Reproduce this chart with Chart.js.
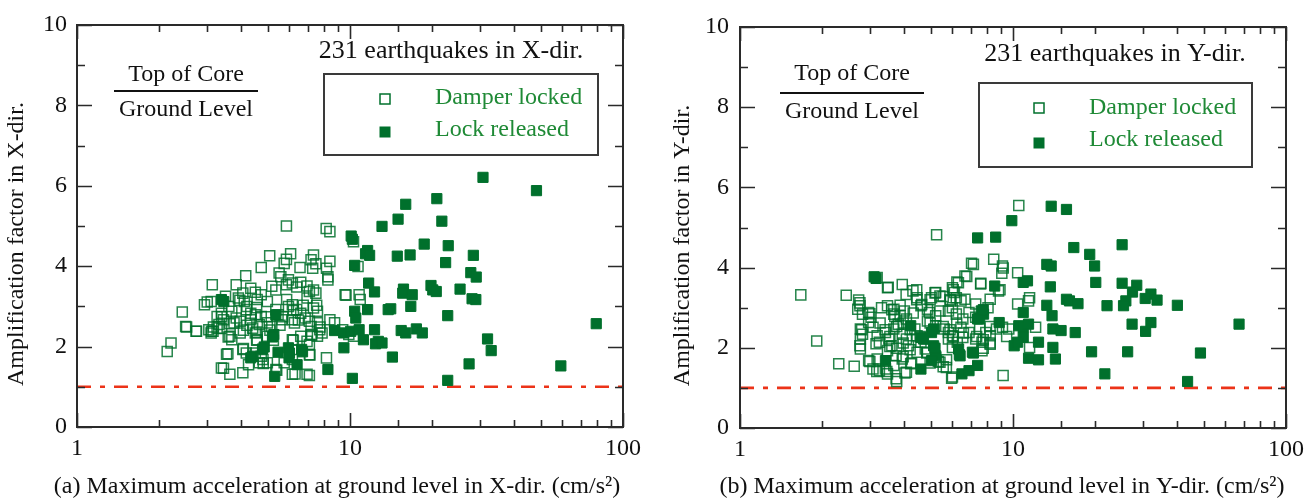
<!DOCTYPE html>
<html><head><meta charset="utf-8">
<script src="https://cdn.jsdelivr.net/npm/chart.js@4.4.1/dist/chart.umd.min.js"></script>
<style>
html,body{margin:0;padding:0;background:#fff;}
#wrap{position:relative;width:1316px;height:499px;overflow:hidden;background:#fff;}
canvas{position:absolute;top:0;}
</style></head><body>
<div id="wrap">
<canvas id="cx" width="658" height="499" style="left:0px"></canvas>
<canvas id="cy" width="658" height="499" style="left:658px"></canvas>
</div>
<script>
// ---------------- DATA ----------------
const xTickLabels = ['1', '10', '100'];
const seriesLabels = ['Damper locked', 'Lock released'];
const refX = [1, 100];
const refY = [1, 1];

// (a) X-direction : Damper locked (open squares)
const accLockedX = [5.85,8.18,8.44,10.3,5.08,6.06,5.85,5.74,7.35,7.2,7.5,7.3,8.44,8.2,8.3,8.3,6.56,4.73,10.7,4.15,5.5,5.58,5.95,5.85,6.15,6.38,6.6,6.96,7.1,6.96,7.35,7.5,3.13,3.83,4.33,4.5,4.73,4.57,4.98,5.17,5.35,4.05,3.9,4.1,3.5,3.1,2.93,9.6,10.8,10.9,3.6,3.69,4.17,4.33,4.5,4.73,5.35,5.45,5.63,5.95,6.15,6.38,6.6,6.85,7.35,7.6,2.43,3.38,3.26,3.44,3.31,3.83,3.76,3.96,4.33,4.4,4.65,4.98,5.17,6.15,6.26,7.1,7.2,7.6,7.75,8.44,8.78,9.4,9.9,10.3,2.5,2.74,3.04,3.1,3.15,3.26,3.63,3.69,3.96,4.5,4.57,4.98,6.15,6.6,7.2,7.6,7.9,6.96,7.1,2.14,2.21,4.05,4.17,3.57,4.5,4.73,4.8,4.65,4.98,4.25,5.35,5.74,6.15,7.1,8.2,3.38,3.63,4.05,6.15,6.96,7.1,5.86,6.74,7.55,6.2,5.67,4.95,4.19,3.63,3.39,3.58,4.07,5.09,6.47,7.76,7.24,6.2,5.24,4.55,4.07,3.53,4.81,3.44,5.39,6.29,7.13,9.67,3.0,2.52,2.73,3.11,3.95,4.19,4.55,3.39,3.16,4.55,5.54];
const ampLockedX = [5.0,4.94,4.86,4.61,4.26,4.31,4.17,4.07,4.28,4.16,4.06,3.95,4.12,3.95,3.74,3.66,3.97,3.97,3.99,3.76,3.83,3.74,3.66,3.54,3.58,3.48,3.6,3.51,3.37,3.21,3.41,3.33,3.54,3.54,3.45,3.35,3.29,3.17,3.12,3.5,3.41,3.33,3.21,3.12,3.25,3.12,3.04,3.29,3.29,3.17,3.0,2.88,2.92,2.83,2.79,2.75,2.92,2.79,2.67,3.0,3.04,2.92,2.83,2.71,2.96,2.88,2.86,2.83,2.75,2.67,2.55,2.71,2.59,2.63,2.67,2.46,2.55,2.59,2.5,2.67,2.59,2.63,2.5,2.59,2.42,2.67,2.59,2.42,2.3,2.26,2.5,2.38,2.42,2.34,2.38,2.46,2.26,2.17,2.34,2.34,2.17,2.26,2.17,2.26,2.3,2.26,2.34,2.13,2.05,1.88,2.09,1.93,1.84,1.82,1.84,1.76,1.68,1.6,1.6,1.55,1.43,1.6,1.68,1.8,1.72,1.47,1.31,1.35,1.31,1.31,1.28,3.17,3.03,3.03,2.9,2.74,2.74,2.53,2.57,2.45,2.24,2.41,2.41,2.66,2.49,2.28,2.16,2.16,2.16,1.95,1.81,1.58,1.46,1.41,1.32,1.79,3.28,3.11,2.49,2.38,2.38,3.15,3.0,2.97,2.74,2.49,2.36,2.53];

// (a) X-direction : Lock released (filled squares)
const accReleasedX = [30.7,48.2,20.8,16.0,15.0,21.7,13.1,10.1,10.2,18.7,22.9,11.6,11.4,11.8,14.9,16.6,28.3,22.4,10.4,11.7,12.3,15.7,15.6,16.9,19.8,20.1,20.7,25.3,27.7,29.0,28.0,28.9,3.38,3.45,11.6,14.1,13.8,16.7,10.4,10.5,22.8,5.35,8.78,9.48,10.06,10.8,12.3,15.4,16.0,17.5,18.4,11.2,12.7,12.4,13.1,31.9,32.9,9.5,5.26,5.2,4.85,4.78,4.4,4.33,5.45,5.95,6.0,5.98,6.7,6.65,6.4,8.3,14.3,27.3,59.2,79.8,10.2,22.8,5.3];
const ampReleasedX = [6.21,5.88,5.68,5.54,5.17,5.12,4.99,4.75,4.67,4.55,4.51,4.39,4.31,4.27,4.25,4.28,4.27,4.09,4.02,3.58,3.36,3.43,3.33,3.29,3.52,3.41,3.37,3.43,3.84,3.73,3.19,3.17,3.17,3.12,2.92,2.94,2.92,3.0,2.88,2.71,2.77,2.79,2.4,2.34,2.38,2.42,2.42,2.4,2.34,2.44,2.34,2.17,2.13,2.07,2.09,2.19,1.9,1.97,2.3,2.24,1.99,1.94,1.76,1.72,1.86,1.97,1.84,1.72,1.87,1.93,1.55,1.43,1.74,1.57,1.52,2.57,1.21,1.16,1.26];

// (b) Y-direction : Damper locked (open squares)
const accLockedY = [10.5,5.25,8.5,7.05,9.15,9.1,10.4,6.67,6.23,7.62,8.85,11.5,11.4,10.4,3.18,3.47,3.93,4.3,4.45,5.21,5.03,5.4,6.0,6.1,6.2,5.9,6.45,6.67,8.25,8.1,7.3,1.67,2.45,2.72,2.75,2.7,2.81,2.96,3.02,3.3,3.47,3.66,3.86,4.0,3.66,3.86,4.07,4.6,4.86,4.94,5.21,5.4,5.8,6.0,6.2,6.55,6.9,7.3,2.76,2.81,2.76,2.75,2.76,2.96,3.07,3.18,3.24,3.41,3.51,3.6,3.47,3.66,3.8,3.93,4.07,4.14,4.37,4.45,4.6,4.77,4.45,4.86,5.21,5.6,5.8,6.0,6.45,5.8,6.0,6.25,6.55,6.9,7.3,7.55,7.7,7.95,8.25,8.7,9.15,9.65,11.5,12.1,7.7,8.25,2.96,3.18,3.07,3.24,3.41,3.47,3.73,4.07,2.3,2.62,1.91,3.73,3.93,4.22,3.66,4.86,5.21,5.4,5.7,6.0,9.2,3.49,4.06,3.6,3.69,3.26,3.4,3.54,3.75,3.96,3.54,3.75,3.96,3.96,4.44,4.44,4.31,4.63,4.2,4.57,4.2,4.25,4.02,4.97,5.18,5.55,5.88,6.04,6.31,6.77,7.16,7.61,9.21,8.96,4.97,5.55,5.88,6.22,6.04,6.58,7.36,7.78,8.24,9.48,8.24,4.83,4.97,5.55,5.96,7.78,5.71,5.33,3.17,3.45,3.75,2.75,2.99,2.79,3.15,2.99];
const ampLockedY = [5.55,4.82,4.21,4.11,4.04,3.86,3.87,3.79,3.64,3.61,3.42,3.25,3.17,3.09,3.75,3.5,3.58,3.42,3.25,3.38,3.25,3.29,3.5,3.38,3.25,3.17,3.17,3.21,3.21,3.0,3.09,3.32,3.31,3.19,3.05,2.96,2.84,2.88,2.76,3.0,3.05,2.96,3.06,2.92,2.84,2.8,2.72,3.05,2.96,2.88,2.8,2.92,2.92,3.0,2.84,2.72,2.88,2.76,2.47,2.34,2.22,2.05,1.97,2.63,2.51,2.3,2.14,2.38,2.22,2.05,1.93,2.47,2.59,2.34,2.22,2.05,2.47,2.3,2.14,1.97,1.89,2.67,2.55,2.47,2.38,2.3,2.51,2.22,2.01,2.14,2.26,2.38,2.22,2.47,2.14,2.38,2.3,2.47,2.51,2.47,2.01,2.51,1.93,2.09,1.68,1.72,1.47,1.43,1.47,1.35,1.23,1.39,1.6,1.54,2.17,1.8,1.72,1.6,1.56,1.89,1.76,1.64,1.51,1.27,1.31,3.51,3.33,2.95,2.78,2.62,2.45,2.28,2.53,2.62,2.03,1.99,2.12,1.78,3.45,3.2,2.87,3.08,2.45,2.28,1.95,1.62,1.37,3.2,3.37,3.28,3.2,3.45,3.62,3.78,4.08,3.59,3.99,3.45,2.62,2.53,2.45,2.62,2.28,2.37,2.28,2.2,2.12,2.28,2.53,1.87,1.62,1.53,1.24,1.99,1.7,1.66,1.41,1.41,1.16,3.12,2.85,2.45,2.1,1.66];

// (b) Y-direction : Lock released (filled squares)
const accReleasedY = [13.8,15.7,9.9,7.42,8.64,16.7,25.1,19.1,19.9,13.3,13.8,10.9,11.3,8.57,13.7,20.1,25.1,28.4,27.4,32.0,30.5,33.7,15.7,16.1,17.3,25.9,25.4,22.1,40.0,13.3,3.1,3.15,10.9,13.9,4.22,5.12,5.03,4.6,4.7,7.65,7.8,7.55,7.42,8.9,10.5,10.9,11.4,14.0,15.0,16.9,27.3,32.0,30.6,67.3,10.9,10.1,10.4,12.4,14.0,14.3,11.4,12.4,19.4,26.3,48.6,5.12,5.21,5.03,6.32,6.4,7.1,3.41,4.6,6.5,6.9,7.42,21.7,43.6,5.18,6.36,7.16,7.78];
const ampReleasedY = [5.53,5.45,5.17,4.74,4.76,4.5,4.57,4.33,4.04,4.08,4.04,3.63,3.67,3.54,3.52,3.63,3.61,3.56,3.39,3.34,3.23,3.19,3.21,3.17,3.1,3.17,3.05,3.05,3.06,3.06,3.77,3.73,2.88,2.8,2.55,2.47,2.38,2.26,2.22,2.92,2.84,2.73,2.72,2.63,2.55,2.51,2.59,2.47,2.43,2.38,2.59,2.63,2.41,2.59,2.26,2.05,2.14,2.14,2.01,1.72,1.74,1.7,1.9,1.9,1.87,2.05,1.8,1.68,1.97,1.8,1.89,1.68,1.47,1.35,1.43,1.56,1.35,1.16,1.99,1.83,1.87,2.95];

// ---------------- STYLE / LAYOUT ----------------
const FONT = "'Liberation Serif', 'Times New Roman', Times, serif";
const GREEN = '#00702c';
const GREEN_TEXT = '#1f8a36';
const INK = '#111111';
Chart.defaults.font.family = FONT;
Chart.defaults.color = INK;

const toPts = (xs, ys) => xs.map((x, i) => ({x: x, y: ys[i]}));

const frameTicks = {
  id: 'frameTicks',
  afterDatasetsDraw(chart) {
    const {ctx, chartArea: a, scales: {x, y}} = chart;
    ctx.save();
    ctx.strokeStyle = '#2a2a2a';
    ctx.lineWidth = 1.6;
    ctx.beginPath();
    x.ticks.forEach(t => {
      const px = Math.round(x.getPixelForValue(t.value)) + 0.5;
      const major = xTickLabels.includes(String(t.value));
      const L = major ? 14 : 7;
      ctx.moveTo(px, a.bottom); ctx.lineTo(px, a.bottom - L);
      ctx.moveTo(px, a.top); ctx.lineTo(px, a.top + L);
    });
    for (let v = y.min; v <= y.max; v += 1) {
      const py = Math.round(y.getPixelForValue(v)) + 0.5;
      const L = (v % 2 === 0) ? 15 : 8;
      ctx.moveTo(a.left, py); ctx.lineTo(a.left + L, py);
      ctx.moveTo(a.right, py); ctx.lineTo(a.right - L, py);
    }
    ctx.stroke();
    ctx.lineWidth = 2;
    ctx.strokeRect(a.left, a.top, a.right - a.left, a.bottom - a.top);
    ctx.restore();
  }
};

const annotations = {
  id: 'annotations',
  afterDatasetsDraw(chart, args, o) {
    const ctx = chart.ctx;
    ctx.save();
    ctx.textBaseline = 'middle';
    ctx.fillStyle = INK;
    ctx.textAlign = 'center';
    // x-axis title (drawn without width squeezing)
    ctx.font = `24px ${FONT}`;
    ctx.fillText(o.xTitle.text, o.xTitle.x, o.xTitle.y);
    ctx.font = `26px ${FONT}`;
    ctx.fillText(o.count.text, o.count.x, o.count.y);
    ctx.font = `24px ${FONT}`;
    ctx.fillText(o.frac.top, o.frac.x, o.frac.y1);
    ctx.fillText(o.frac.bottom, o.frac.x, o.frac.y2);
    ctx.strokeStyle = INK;
    ctx.lineWidth = 2.2;
    ctx.beginPath();
    ctx.moveTo(o.frac.l0, o.frac.ly); ctx.lineTo(o.frac.l1, o.frac.ly);
    ctx.stroke();
    const b = o.box;
    ctx.strokeStyle = '#3a3a3a';
    ctx.lineWidth = 2;
    ctx.strokeRect(b.x0, b.y0, b.x1 - b.x0, b.y1 - b.y0);
    const ds = chart.data.datasets;
    [0, 1].forEach(i => {
      const d = ds[i];
      const my = b.rows[i];
      if (d.fillMarker) {
        ctx.fillStyle = GREEN;
        ctx.fillRect(b.mx - 5.5, my - 5.5, 11, 11);
      } else {
        ctx.strokeStyle = GREEN;
        ctx.lineWidth = 1.5;
        ctx.strokeRect(b.mx - 5, my - 5, 10, 10);
      }
      ctx.fillStyle = GREEN_TEXT;
      ctx.textAlign = 'left';
      ctx.font = `24px ${FONT}`;
      ctx.fillText(d.label, b.tx, b.trows[i]);
    });
    ctx.restore();
  }
};

function makePanel(id, p) {
  const ctx = document.getElementById(id);
  return new Chart(ctx, {
    type: 'scatter',
    data: {
      datasets: [
        { label: seriesLabels[0], data: toPts(p.accL, p.ampL), pointStyle: 'rect',
          pointRadius: 7.1, borderWidth: 1.5, borderColor: 'rgba(0,112,44,0.85)',
          backgroundColor: 'rgba(0,0,0,0)', order: 2, fillMarker: false },
        { label: seriesLabels[1], data: toPts(p.accR, p.ampR), pointStyle: 'rect',
          pointRadius: 7.2, borderWidth: 1, borderColor: GREEN,
          backgroundColor: GREEN, order: 1, fillMarker: true },
        { label: 'ref', data: toPts(refX, refY), showLine: true, pointRadius: 0,
          borderColor: '#ec3318', borderWidth: 2.6, borderDash: [14, 9, 5, 9],
          order: 3 }
      ]
    },
    options: {
      responsive: false, animation: false, devicePixelRatio: 1, events: [],
      layout: { padding: { left: 0, right: p.padRight, top: p.padTop, bottom: 0 } },
      plugins: {
        legend: { display: false }, tooltip: { enabled: false },
        annotations: p.ann
      },
      scales: {
        x: {
          type: 'logarithmic', min: 1, max: 100,
          grid: { display: false, drawTicks: false }, border: { display: false },
          afterFit: s => { s.height = p.xHeight; },
          ticks: { autoSkip: false, maxRotation: 0, padding: 7, color: INK,
                   font: { size: 24, lineHeight: 1.2 },
                   callback: v => xTickLabels.includes(String(v)) ? String(v) : '' },
          title: { display: false }
        },
        y: {
          min: 0, max: 10,
          grid: { display: false, drawTicks: false }, border: { display: false },
          afterFit: s => { s.width = p.yWidth; },
          ticks: { stepSize: 2, padding: p.yPad, color: INK, font: { size: 24 } },
          title: { display: true, text: p.yTitle, color: INK,
                   font: { size: 24, lineHeight: 1 }, padding: { top: p.yTitlePad, bottom: 0 } }
        }
      }
    },
    plugins: [frameTicks, annotations]
  });
}

makePanel('cx', {
  accL: accLockedX, ampL: ampLockedX, accR: accReleasedX, ampR: ampReleasedX,
  padRight: 35, padTop: 25, xHeight: 72, yWidth: 77, yPad: 10, yTitlePad: 5,
  yTitle: 'Amplification factor in X-dir.\u2002\u2002\u2002',
  ann: {
    xTitle: { text: '(a) Maximum acceleration at ground level in X-dir. (cm/s\u00B2)', x: 337, y: 487 },
    count: { text: '231 earthquakes in X-dir.', x: 451, y: 51 },
    frac: { top: 'Top of Core', bottom: 'Ground Level', x: 186, y1: 75, y2: 110, l0: 114, l1: 258, ly: 91 },
    box: { x0: 324, y0: 74, x1: 598, y1: 155, mx: 385, rows: [99, 132], tx: 435, trows: [98, 130] }
  }
});

makePanel('cy', {
  accL: accLockedY, ampL: ampLockedY, accR: accReleasedY, ampR: ampReleasedY,
  padRight: 30, padTop: 27, xHeight: 71, yWidth: 82, yPad: 11, yTitlePad: 13,
  yTitle: 'Amplification factor in Y-dir.\u2002\u2002\u2002',
  ann: {
    xTitle: { text: '(b) Maximum acceleration at ground level in Y-dir. (cm/s\u00B2)', x: 1002 - 658, y: 487 },
    count: { text: '231 earthquakes in Y-dir.', x: 1115 - 658, y: 54 },
    frac: { top: 'Top of Core', bottom: 'Ground Level', x: 852 - 658, y1: 74, y2: 112, l0: 780 - 658, l1: 924 - 658, ly: 93 },
    box: { x0: 979 - 658, y0: 83, x1: 1252 - 658, y1: 167, mx: 1039 - 658, rows: [108, 143], tx: 1089 - 658, trows: [108, 140] }
  }
});
</script>
</body></html>
